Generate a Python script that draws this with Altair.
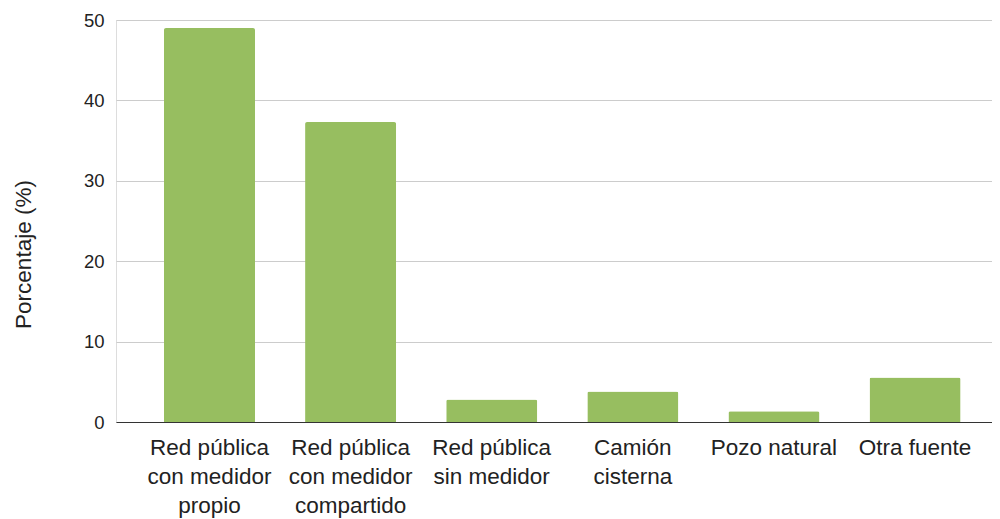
import altair as alt
import pandas as pd

categories = [
    "Red pública\ncon medidor\npropio",
    "Red pública\ncon medidor\ncompartido",
    "Red pública\nsin medidor",
    "Camión\ncisterna",
    "Pozo natural",
    "Otra fuente",
]
values = [49.0, 37.3, 2.8, 3.8, 1.35, 5.55]
y_ticks = [0, 10, 20, 30, 40, 50]

df = pd.DataFrame({"categoria": categories, "porcentaje": values})

FONT = "Liberation Sans"

chart = alt.Chart(df).mark_bar(
    color="#97be60", cornerRadiusTopLeft=2, cornerRadiusTopRight=2
).encode(
    x=alt.X(
        "categoria:N",
        sort=categories,
        scale=alt.Scale(paddingInner=0.355, paddingOuter=0.2815, align=0.604),
        axis=alt.Axis(
            title=None,
            labelAngle=0,
            labelExpr="split(datum.label, '\\n')",
            labelFont=FONT,
            labelFontSize=22.5,
            labelColor="#222222",
            labelLineHeight=29,
            labelPadding=14,
            labelBaseline="top",
            labelLimit=200,
            ticks=False,
            domainColor="#333333",
            domainWidth=1.2,
            grid=False,
        ),
    ),
    y=alt.Y(
        "porcentaje:Q",
        scale=alt.Scale(domain=[0, 50], nice=False),
        axis=alt.Axis(
            title="Porcentaje (%)",
            values=y_ticks,
            titleFont=FONT,
            titleFontSize=22.5,
            titleFontWeight="normal",
            titleColor="#222222",
            titleAngle=-90,
            titleX=-93,
            titleY=234,
            titleAlign="center",
            titleBaseline="middle",
            labelFont=FONT,
            labelFontSize=18.5,
            labelColor="#222222",
            labelPadding=12,
            ticks=False,
            domain=False,
            gridColor="#cccccc",
            gridWidth=1.2,
        ),
    ),
).properties(
    width=876,
    height=402,
    autosize=alt.AutoSizeParams(type="none"),
    padding={"left": 108, "top": 12, "right": 0, "bottom": 100},
).configure_view(stroke=None).configure(background="white")

chart.save("out.html", embed_options={"renderer": "svg", "actions": False})
